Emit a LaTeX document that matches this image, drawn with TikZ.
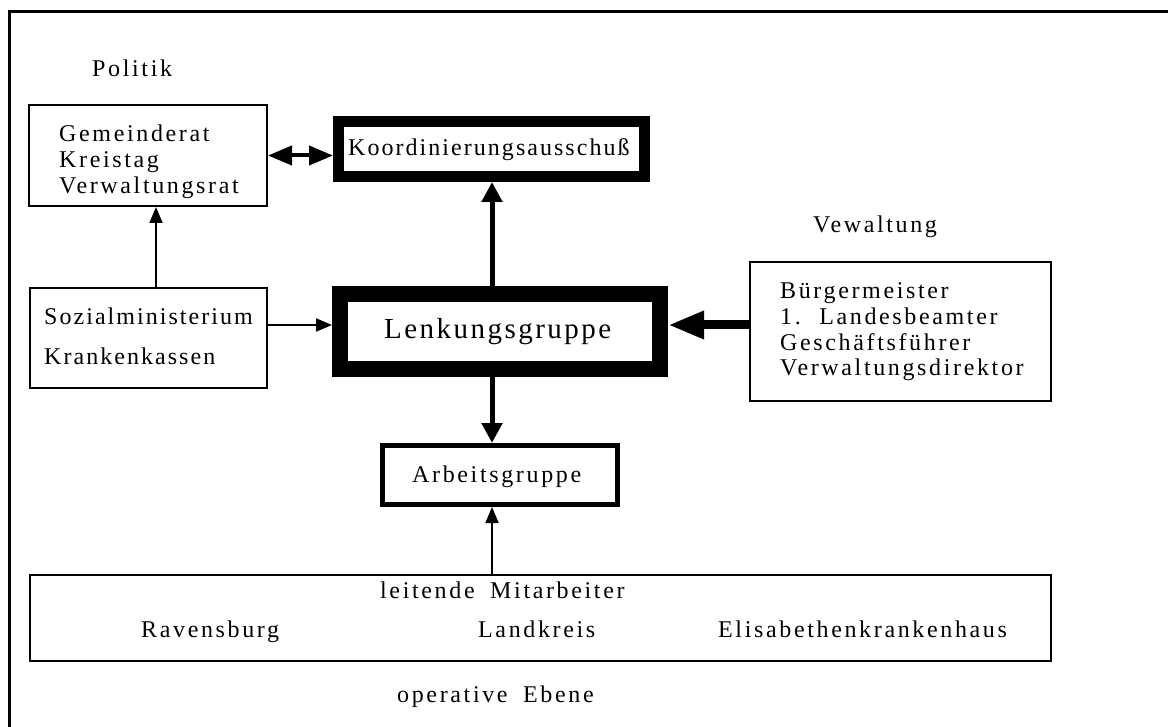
\documentclass[tikz,border=0pt]{standalone}
\usepackage{fontspec}
\setmainfont{Liberation Serif}
\newfontfamily\spacedfont[LetterSpace=11,WordSpace=1.8]{Liberation Serif}
\newfontfamily\tightfont[LetterSpace=8.5,WordSpace=1.8]{Liberation Serif}
\usetikzlibrary{arrows.meta}
\begin{document}
\begin{tikzpicture}[x=1pt,y=-1pt,
  lbl/.style={font=\spacedfont\fontsize{24}{26}\selectfont, inner sep=0pt, anchor=base west},
  tlbl/.style={font=\tightfont\fontsize{24}{26}\selectfont, inner sep=0pt, anchor=base west},
  biglbl/.style={font=\tightfont\fontsize{29}{31}\selectfont, inner sep=0pt, anchor=base west},
  thinbox/.style={draw, line width=2pt, inner sep=0pt},
  thin arrow/.style={line width=2pt, -{Triangle[length=16pt,width=13pt]}},
  mid arrow/.style={line width=5pt, -{Triangle[length=20pt,width=20pt]}},
  thick arrow/.style={line width=9pt, -{Triangle[length=36pt,width=26pt]}},
  both arrow/.style={line width=4pt, {Triangle[length=24pt,width=19pt]}-{Triangle[length=24pt,width=19pt]}}
]
\useasboundingbox (0,0) rectangle (1168,727);
% outer frame
\draw[line width=3pt] (1168,12) -- (9,12) -- (9,727);

% boxes
\node[thinbox, minimum width=238pt, minimum height=101pt] (gem) at (148,155.5) {};
\node[draw, line width=11pt, inner sep=0pt, minimum width=306pt, minimum height=55pt] (koord) at (491.5,149) {};
\node[draw, line width=16pt, inner sep=0pt, minimum width=320pt, minimum height=75pt] (lenk) at (500,331.5) {};
\node[draw, line width=5pt, inner sep=0pt, minimum width=235pt, minimum height=59pt] (arb) at (500,475) {};
\node[thinbox, minimum width=237pt, minimum height=100pt] (sozial) at (148.5,338) {};
\node[thinbox, minimum width=301pt, minimum height=139pt] (verw) at (900.5,331.5) {};
\node[thinbox, minimum width=1021pt, minimum height=86pt] (mitarb) at (540.5,618) {};

% texts
\node[lbl] (politik) at (92,77) {Politik};
\node[lbl] (gem1) at (59,142) {Gemeinderat};
\node[lbl] (gem2) at (59,168) {Kreistag};
\node[lbl] (gem3) at (59,194) {Verwaltungsrat};
\node[tlbl] (koordT) at (348,156) {Koordinierungsausschuß};
\node[tlbl] (soz1) at (44,325) {Sozialministerium};
\node[tlbl] (soz2) at (44,365) {Krankenkassen};
\node[biglbl] (lenkT) at (384,339) {Lenkungsgruppe};
\node[lbl] (vewaltung) at (813,233) {Vewaltung};
\node[lbl] (verw1) at (780,299) {Bürgermeister};
\node[lbl] (verw2) at (780,325) {1. Landesbeamter};
\node[lbl] (verw3) at (780,351) {Geschäftsführer};
\node[lbl] (verw4) at (780,376) {Verwaltungsdirektor};
\node[lbl] (arbT) at (412,482) {Arbeitsgruppe};
\node[lbl] (leitend) at (380,598) {leitende Mitarbeiter};
\node[lbl] (rav) at (141,637) {Ravensburg};
\node[lbl] (land) at (478,637) {Landkreis};
\node[lbl] (elis) at (718,637) {Elisabethenkrankenhaus};
\node[lbl] (operativ) at (397,702) {operative Ebene};

% connectors
\draw[both arrow] (gem.east) -- (gem.east -| koord.west);
\draw[mid arrow] (lenk.north -| 492,0) -- (koord.south -| 492,0);
\draw[mid arrow] (lenk.south -| 492,0) -- (arb.north -| 492,0);
\draw[thin arrow] (mitarb.north -| 492,0) -- (arb.south -| 492,0);
\draw[thin arrow] (sozial.north -| 156,0) -- (gem.south -| 156,0);
\draw[thin arrow] (sozial.east |- 0,325) -- (lenk.west |- 0,325);
\draw[thick arrow] (verw.west |- 0,325) -- (lenk.east |- 0,325);
\end{tikzpicture}
\end{document}
